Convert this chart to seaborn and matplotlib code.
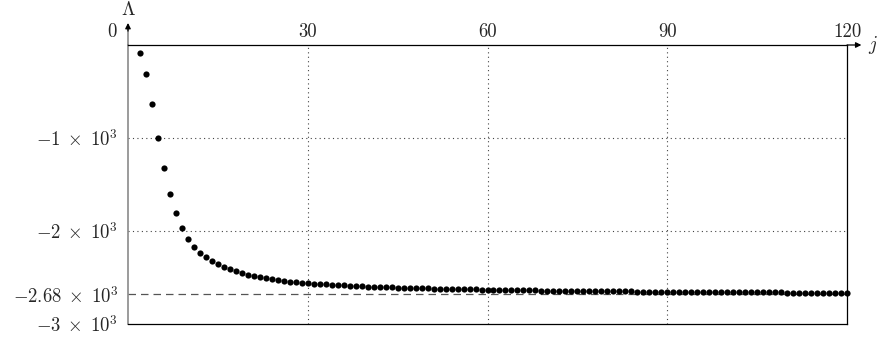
import numpy as np
import pandas as pd
import matplotlib
matplotlib.use("Agg")
import matplotlib.pyplot as plt
import matplotlib.transforms as mtransforms
import seaborn as sns

# Lambda values for j = 2 .. 120
j_values = list(range(2, 121))
lambda_values = [
    -91, -309, -631, -1003, -1323, -1600, -1810, -1968, -2082,
    -2170, -2234, -2283, -2323, -2358, -2387, -2412, -2434, -2452, -2470,
    -2484, -2498, -2509, -2520, -2530, -2538, -2545, -2552, -2557, -2562,
    -2566, -2570, -2574, -2578, -2582, -2585, -2588, -2591, -2594, -2597,
    -2599, -2602, -2604, -2606, -2608, -2610, -2612, -2614, -2616, -2618,
    -2619, -2621, -2622, -2624, -2625, -2626, -2628, -2629, -2630, -2631,
    -2632, -2633, -2634, -2635, -2636, -2637, -2638, -2639, -2640, -2641,
    -2641, -2642, -2643, -2644, -2644, -2645, -2646, -2646, -2647, -2648,
    -2648, -2649, -2649, -2650, -2651, -2651, -2652, -2652, -2653, -2653,
    -2654, -2654, -2655, -2655, -2656, -2656, -2657, -2657, -2657, -2658,
    -2658, -2659, -2659, -2659, -2660, -2660, -2661, -2661, -2661, -2662,
    -2662, -2662, -2663, -2663, -2663, -2664, -2664, -2664, -2665, -2665,
]
asymptote = -2680

x_ticks = [0, 30, 60, 90, 120]
x_tick_labels = ["0", "30", "60", "90", "120"]
y_ticks = [-1000, -2000, -2680, -3000]
y_tick_labels = [r"$-1\;\times\;10^3$", r"$-2\;\times\;10^3$",
                 r"$-2.68\;\times\;10^3$", r"$-3\;\times\;10^3$"]

df = pd.DataFrame({"j": j_values, "Lambda": lambda_values})

sns.set_theme(style="white")
plt.rcParams["font.family"] = "serif"
plt.rcParams["font.serif"] = ["cmr10", "DejaVu Serif"]
plt.rcParams["mathtext.fontset"] = "cm"
plt.rcParams["axes.unicode_minus"] = True

fig = plt.figure(figsize=(8.85, 3.41), dpi=100)
ax = fig.add_axes([128 / 885, 1 - 324 / 341, (847 - 128) / 885, (324 - 45) / 341])

# grid lines (dotted)
for xv in x_ticks[1:-1]:
    ax.axvline(xv, color="#444444", linestyle=(0, (1, 3)), linewidth=0.8, zorder=1)
for yv in [-1000, -2000]:
    ax.axhline(yv, color="#444444", linestyle=(0, (1, 3)), linewidth=0.8, zorder=1)

ax.axhline(asymptote, color="#555555", linestyle=(0, (6, 4)), linewidth=0.9, zorder=1)

sns.scatterplot(data=df, x="j", y="Lambda", color="black", s=20,
                linewidth=0, ax=ax, zorder=3, clip_on=False)

ax.set_xlim(0, 120)
ax.set_ylim(-3000, 0)
ax.xaxis.tick_top()
ax.set_xticks(x_ticks)
ax.set_xticklabels(x_tick_labels, fontsize=13.5)
ax.set_yticks(y_ticks)
ax.set_yticklabels(y_tick_labels, fontsize=13.5)
ax.tick_params(axis="both", length=0)
ax.tick_params(axis="x", pad=3)
ax.tick_params(axis="y", pad=7)
ax.set_xlabel("")
ax.set_ylabel("")

# shift the "0" tick label to the left of the y axis
offset = mtransforms.ScaledTranslation(-16 / 100, 0, fig.dpi_scale_trans)
first = ax.get_xticklabels()[0]
first.set_transform(first.get_transform() + offset)

for side in ["top", "right", "bottom"]:
    ax.spines[side].set_color("black")
    ax.spines[side].set_linewidth(0.9)
ax.spines["left"].set_color("#808080")
ax.spines["left"].set_linewidth(1.1)

# axis arrows
ax.annotate("", xy=(1.02, 1.0), xytext=(1.0, 1.0), xycoords="axes fraction",
            arrowprops=dict(arrowstyle="-|>", color="black", lw=0.9,
                            mutation_scale=8, shrinkA=0, shrinkB=0))
ax.plot([0, 0], [1.0, 1.06], transform=ax.transAxes, color="#808080",
        lw=1.1, clip_on=False)
ax.annotate("", xy=(0.0, 1.079), xytext=(0.0, 1.05), xycoords="axes fraction",
            arrowprops=dict(arrowstyle="-|>", color="black", lw=0.9,
                            mutation_scale=8, shrinkA=0, shrinkB=0))
ax.text(1.036, 1.0, r"$j$", transform=ax.transAxes, fontsize=14,
        ha="center", va="center")
ax.text(0.0, 1.125, r"$\Lambda$", transform=ax.transAxes, fontsize=14,
        ha="center", va="center")

fig.savefig("out.png", dpi=100)
